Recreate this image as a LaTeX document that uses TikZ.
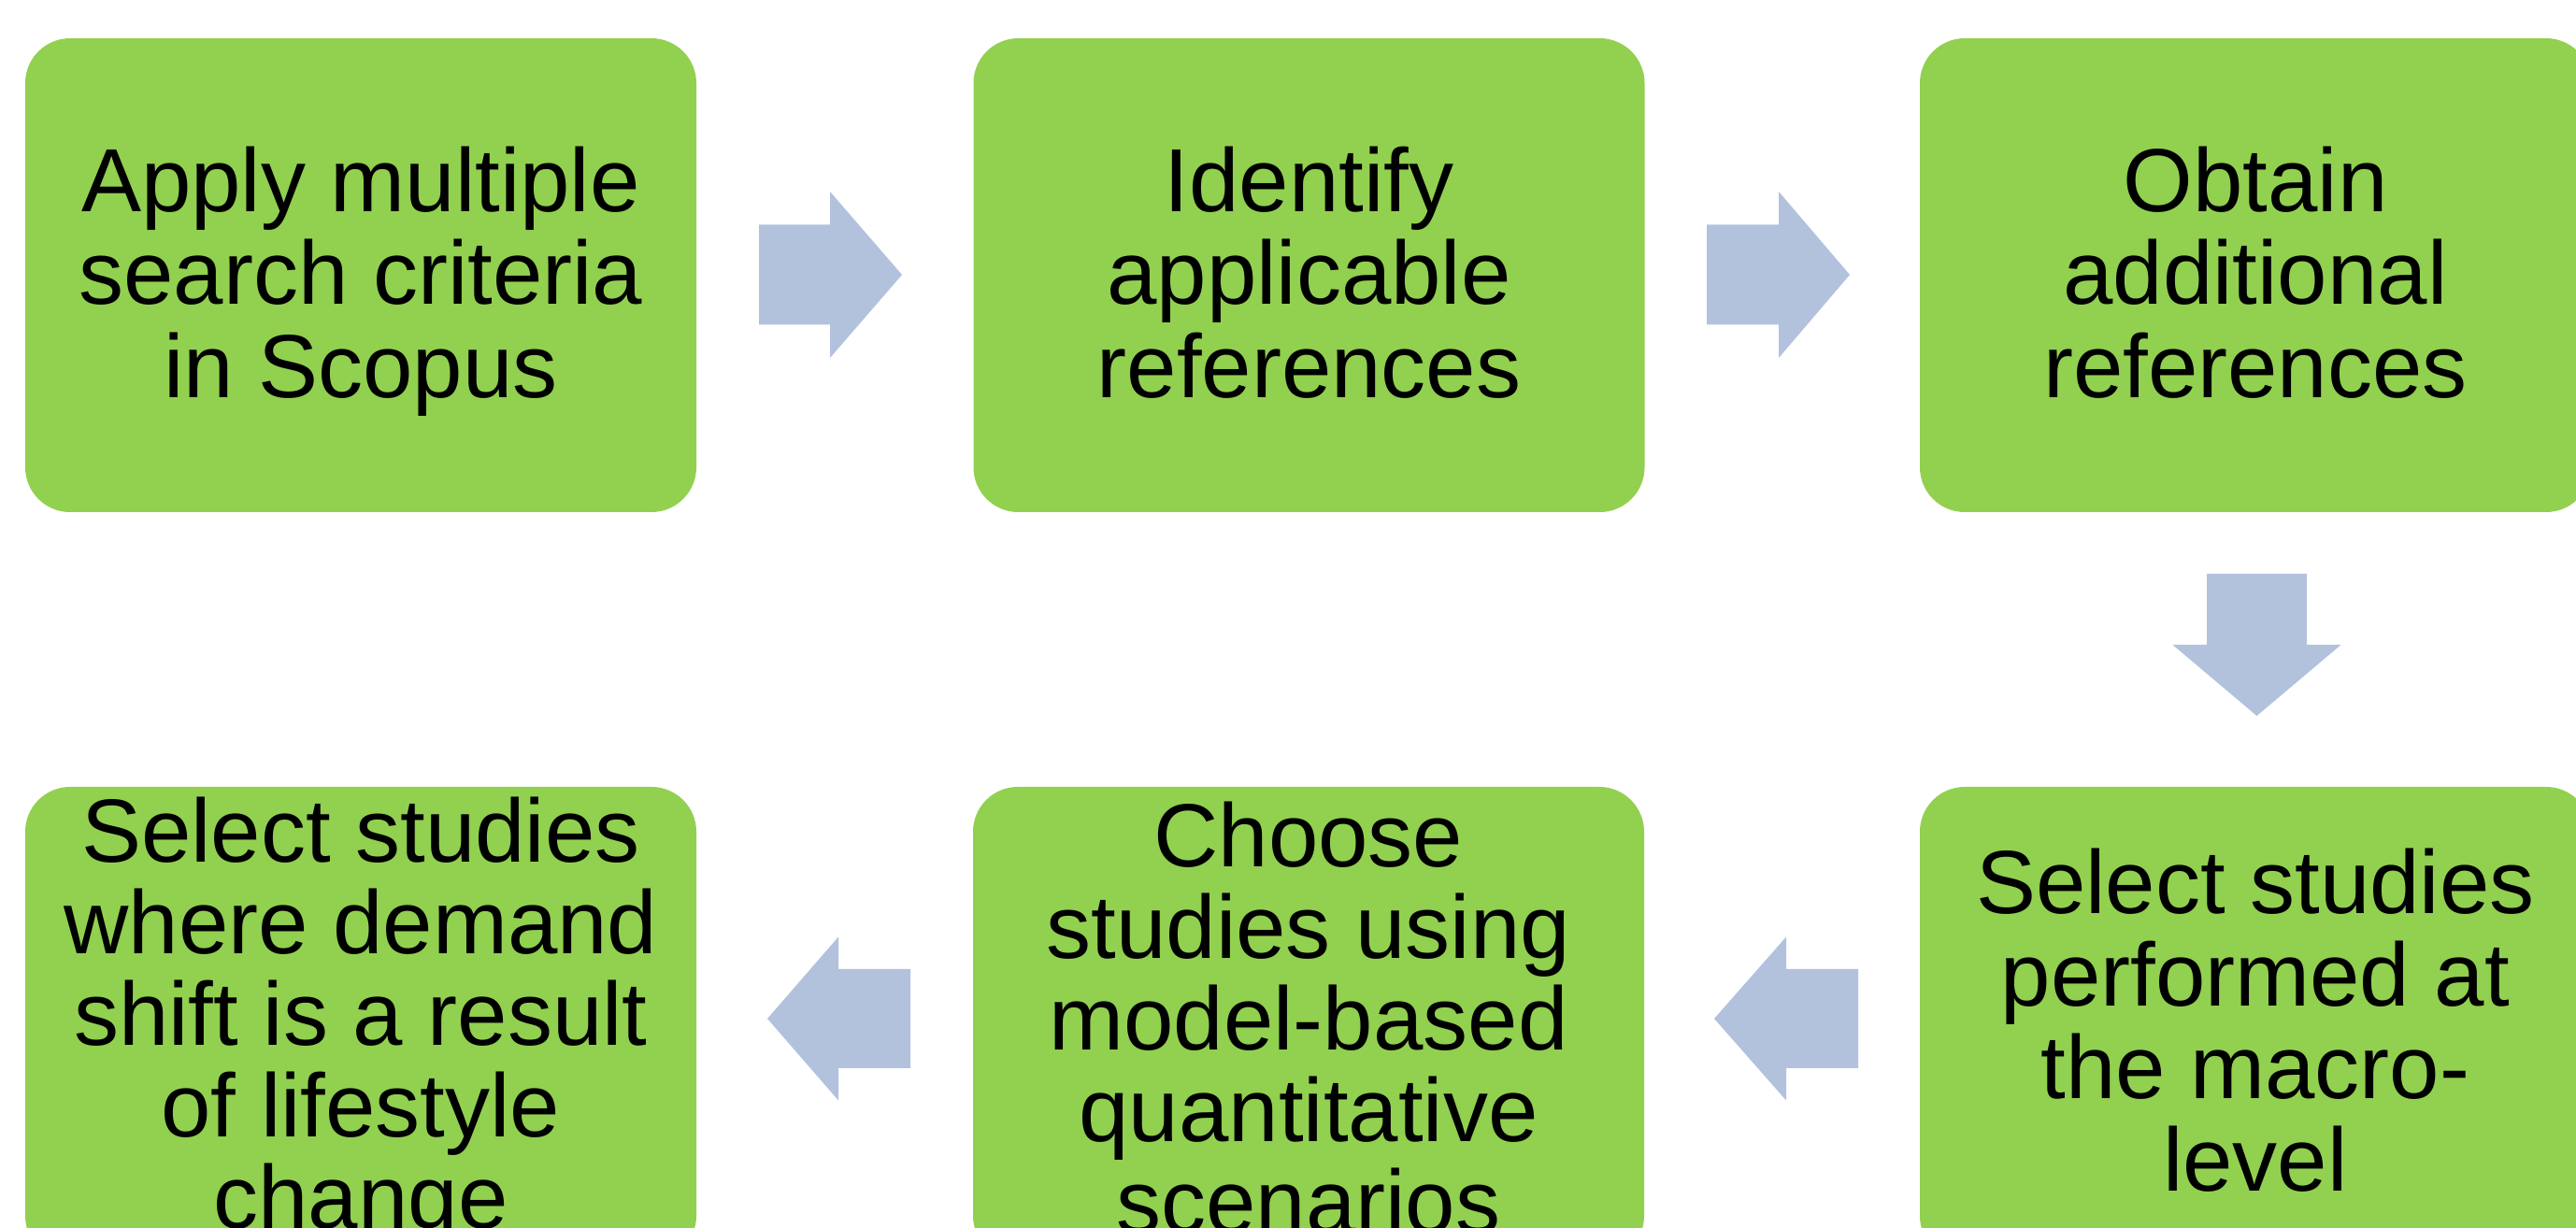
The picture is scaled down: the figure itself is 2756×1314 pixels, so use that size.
\documentclass[tikz,border=0pt]{standalone}
\usepackage{fontspec}
\setmainfont{Liberation Sans}
\definecolor{boxgreen}{HTML}{92D050}
\definecolor{arrowblue}{HTML}{B2C2DD}
\begin{document}
\begin{tikzpicture}[x=0.25pt,y=-0.25pt,
  stepbox/.style={fill=boxgreen, draw=none, rounded corners=12pt,
    minimum width=179.5pt, minimum height=126.75pt, inner sep=0pt},
  boxtext/.style={anchor=north, align=center, inner sep=0pt, text=black},
  toptext/.style={boxtext, font=\fontsize{24}{24.9}\selectfont},
  bottext/.style={boxtext, font=\fontsize{24}{24.5}\selectfont},
  arrowfill/.style={fill=arrowblue, draw=none}]
\useasboundingbox (0,0) rectangle (2756,1314);
\fill[white] (0,0) rectangle (2756,1314);
\clip (0,0) rectangle (2756,1314);

% boxes
\node[stepbox] (b1) at (386,294.5) {};
\node[stepbox] (b2) at (1400.5,294.5) {};
\node[stepbox] (b3) at (2413,294.5) {};
\node[stepbox] (b4) at (386,1095.5) {};
\node[stepbox] (b5) at (1400,1095.5) {};
\node[stepbox] (b6) at (2413,1095.5) {};

% texts
\node[toptext] (t1) at (386,156) {Apply multiple\\search criteria\\in Scopus};
\node[toptext] (t2) at (1400.5,156) {Identify\\applicable\\references};
\node[toptext] (t3) at (2413,156) {Obtain\\additional\\references};
\node[bottext] (t4) at (386,852) {Select studies\\where demand\\shift is a result\\of lifestyle\\change};
\node[bottext] (t5) at (1400,857) {Choose\\studies using\\model-based\\quantitative\\scenarios};
\node[boxtext, font=\fontsize{24}{24.75}\selectfont] (t6) at (2413,907) {Select studies\\performed at\\the macro-\\level};

% arrow anchors (head base centres)
\coordinate (a1) at (888,294);
\coordinate (a2) at (1903,294);
\coordinate (a3) at (2414.5,690);
\coordinate (a4) at (897,1090);
\coordinate (a5) at (1911,1090);

% right arrows
\fill[arrowfill, shift={(a1)}] (-76,-53.5) -- (0,-53.5) -- (0,-89) -- (77,0) -- (0,89) -- (0,53.5) -- (-76,53.5) -- cycle;
\fill[arrowfill, shift={(a2)}] (-77,-53.5) -- (0,-53.5) -- (0,-89) -- (76,0) -- (0,89) -- (0,53.5) -- (-77,53.5) -- cycle;
% down arrow
\fill[arrowfill, shift={(a3)}] (-53.5,-76) -- (-53.5,0) -- (-90,0) -- (0,76) -- (90,0) -- (53.5,0) -- (53.5,-76) -- cycle;
% left arrows
\fill[arrowfill, shift={(a4)}] (77,-53) -- (0,-53) -- (0,-87.5) -- (-76,0) -- (0,87.5) -- (0,53) -- (77,53) -- cycle;
\fill[arrowfill, shift={(a5)}] (77,-53) -- (0,-53) -- (0,-87.5) -- (-77,0) -- (0,87.5) -- (0,53) -- (77,53) -- cycle;
\end{tikzpicture}
\end{document}
